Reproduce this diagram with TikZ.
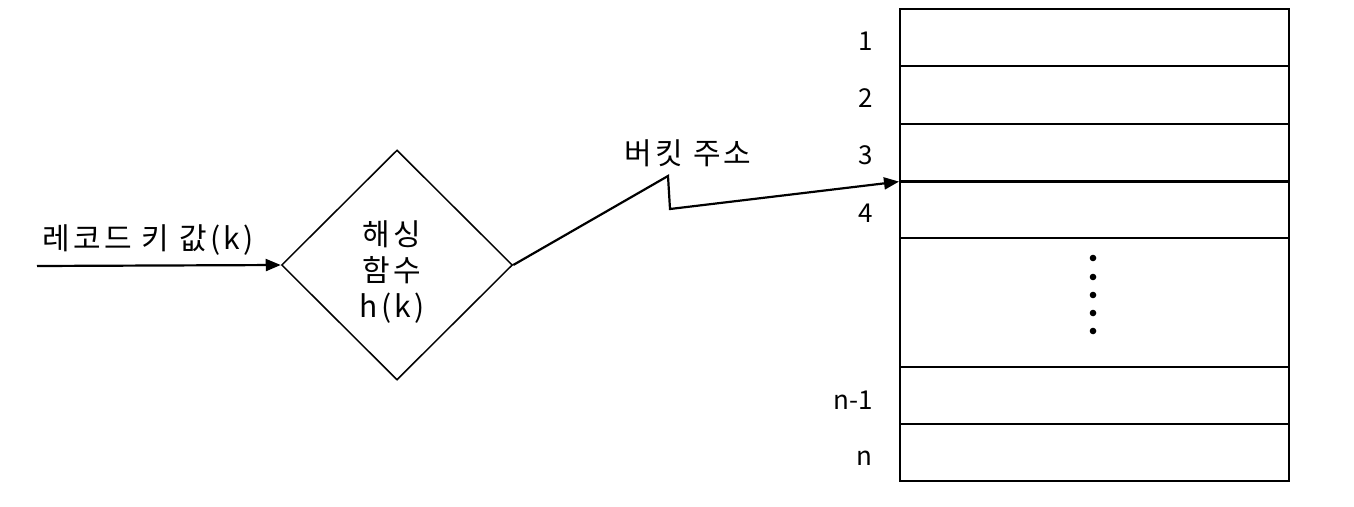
\documentclass[tikz,border=0pt]{standalone}
\usepackage{fontspec}
\setmainfont{Noto Sans CJK KR}
\newfontfamily\krsp[LetterSpace=11]{Noto Sans CJK KR}
\usetikzlibrary{shapes.geometric,arrows.meta}
\begin{document}
\begin{tikzpicture}[x=1pt,y=-1pt,
  cell/.style={draw, line width=1.6pt, rectangle, minimum width=389pt, inner sep=0pt, anchor=north west},
  numlbl/.style={font=\fontsize{26}{30}\selectfont, anchor=east, inner sep=0pt},
  txt/.style={font=\krsp\fontsize{30}{36}\selectfont, inner sep=0pt},
  conn/.style={line width=2.2pt, -{Triangle[length=15pt,width=12pt]}},
  dotmark/.style={fill=black}]
\useasboundingbox (0,0) rectangle (1354,506);
% table rows
\node[cell, minimum height=57pt] (r1) at (899,8) {};
\node[cell, minimum height=58pt] (r2) at (899,65) {};
\node[cell, minimum height=57pt] (r3) at (899,123) {};
\node[cell, minimum height=57pt] (r4) at (899,180) {};
\node[cell, minimum height=129pt] (r5) at (899,237) {};
\node[cell, minimum height=57pt] (r6) at (899,366) {};
\node[cell, minimum height=57pt] (r7) at (899,423) {};
\draw[line width=2.4pt] (r3.south west) -- (r3.south east);
% row labels
\node[numlbl] (l1) at (873,41) {1};
\node[numlbl] (l2) at (873,98) {2};
\node[numlbl] (l3) at (873,155) {3};
\node[numlbl] (l4) at (873,213) {4};
\node[numlbl] (l6) at (873,400) {n-1};
\node[numlbl] (l7) at (873,458) {n};
% dots
\foreach \yy in {258,277,295,313,331} \fill[dotmark] (1093,\yy) circle (3.3pt);
% hashing function
\node[diamond, draw, line width=1.5pt, aspect=1, minimum width=231pt, minimum height=230pt, inner sep=0pt] (hd) at (397,265) {};
\node[txt, align=center] (hdt) at (392,272) {해싱\\함수\\h(k)};
% input
\coordinate (in) at (37,266);
\node[txt, anchor=west] (inl) at (42,240) {레코드 키 값(k)};
\draw[conn] (in) -- (hd.west);
% output
\coordinate (zz1) at (668,176);
\coordinate (zz2) at (670,209);
\node[txt] (outl) at (688,153) {버킷 주소};
\draw[conn, line join=miter] (hd.east) -- (zz1) -- (zz2) -- (r3.south west);
\end{tikzpicture}
\end{document}
